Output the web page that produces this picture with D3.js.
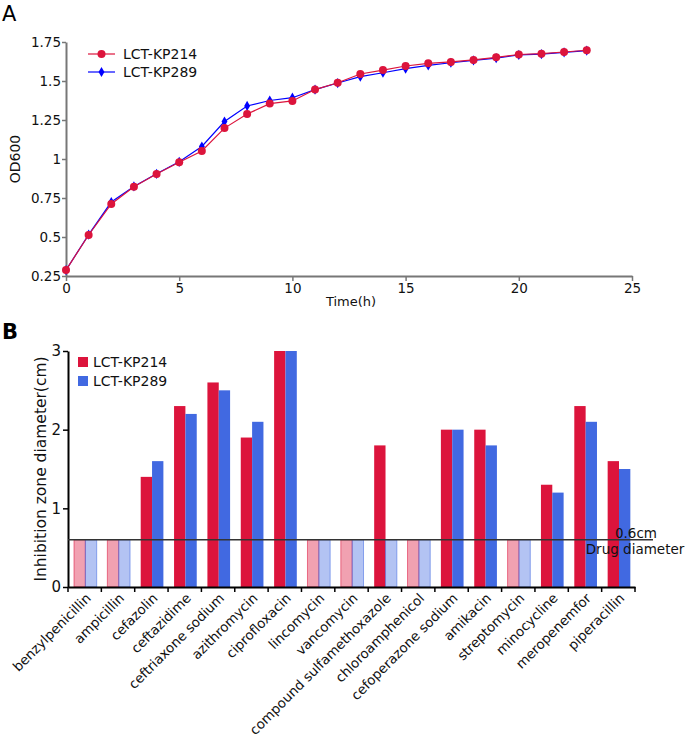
<!DOCTYPE html>
<html><head><meta charset="utf-8">
<script src="https://cdn.jsdelivr.net/npm/d3@7"></script>
<style>
html,body{margin:0;padding:0;background:#fff;}
svg{display:block;font-family:"DejaVu Sans",sans-serif;}
</style></head>
<body>
<svg id="chart" width="685" height="739"></svg>
<script>
// ---------- Panel A data ----------
const hours = [0,1,2,3,4,5,6,7,8,9,10,11,12,13,14,15,16,17,18,19,20,21,22,23];
const odKP214 = [0.288,0.513,0.712,0.822,0.904,0.979,1.051,1.198,1.288,1.355,1.372,1.445,1.489,1.545,1.570,1.596,1.613,1.622,1.635,1.652,1.670,1.675,1.686,1.697];
const odKP289 = [0.288,0.515,0.724,0.824,0.905,0.982,1.080,1.240,1.340,1.375,1.393,1.445,1.487,1.528,1.553,1.579,1.600,1.617,1.632,1.647,1.667,1.672,1.684,1.695];
const odYTicks = [0.25,0.5,0.75,1,1.25,1.5,1.75];
const timeTicks = [0,5,10,15,20,25];
const seriesNames = ["LCT-KP214","LCT-KP289"];

// ---------- Panel B data ----------
const drugs = ["benzylpenicillin","ampicillin","cefazolin","ceftazidime","ceftriaxone sodium","azithromycin","ciprofloxacin","lincomycin","vancomycin","compound sulfamethoxazole","chloroamphenicol","cefoperazone sodium","amikacin","streptomycin","minocycline","meropenemfor","piperacillin"];
const zoneKP214 = [0.6,0.6,1.4,2.3,2.6,1.9,3.0,0.6,0.6,1.8,0.6,2.0,2.0,0.6,1.3,2.3,1.6];
const zoneKP289 = [0.6,0.6,1.6,2.2,2.5,2.1,3.0,0.6,0.6,0.6,0.6,2.0,1.8,0.6,1.2,2.1,1.5];
const zoneYTicks = [0,1,2,3];
const drugDiameter = 0.6;

const RED = "#dc143c", BLUE = "#4169e1", LBLUE = "#0000ff";
const svg = d3.select("#chart");

// ================= Panel A =================
const xA = d3.scaleLinear().domain([0,25]).range([66,632]);
const yA = d3.scaleLinear().domain([0.25,1.75]).range([276,42]);

svg.append("text").attr("x",2).attr("y",21).attr("font-size",21).text("A");

const axA_y = svg.append("g").attr("transform","translate(66,0)")
  .call(d3.axisLeft(yA).tickValues(odYTicks).tickFormat(d=>String(d)).tickSize(4).tickPadding(1).tickSizeOuter(0));
const axA_x = svg.append("g").attr("transform","translate(0,276)")
  .call(d3.axisBottom(xA).tickValues(timeTicks).tickSize(5).tickPadding(2).tickSizeOuter(0));
[axA_y,axA_x].forEach(g=>{
  g.select(".domain").attr("stroke","#777").attr("stroke-width",2);
  g.selectAll(".tick line").attr("stroke","#777").attr("stroke-width",1.5);
  g.selectAll(".tick text").attr("font-size",13.5).attr("fill","#111").attr("font-family","DejaVu Sans");
});

svg.append("text").attr("x",351).attr("y",306).attr("text-anchor","middle").attr("font-size",13).attr("fill","#111").text("Time(h)");
svg.append("text").attr("transform","translate(20,159) rotate(-90)").attr("text-anchor","middle").attr("font-size",14).attr("fill","#111").text("OD600");

const lineA = d3.line().x((d,i)=>xA(hours[i])).y(d=>yA(d));
const diamond = d3.symbol().type(d3.symbolDiamond).size(30);

// blue series first
svg.append("path").datum(odKP289).attr("d",lineA).attr("fill","none").attr("stroke",LBLUE).attr("stroke-width",1.2);
svg.append("g").selectAll("path").data(odKP289).join("path")
  .attr("d",diamond).attr("transform",(d,i)=>`translate(${xA(hours[i])},${yA(d)})`).attr("fill",LBLUE);
svg.append("path").datum(odKP214).attr("d",lineA).attr("fill","none").attr("stroke",RED).attr("stroke-width",1.2);
svg.append("g").selectAll("circle").data(odKP214).join("circle")
  .attr("cx",(d,i)=>xA(hours[i])).attr("cy",d=>yA(d)).attr("r",4).attr("fill",RED);

// legend A
const legA = svg.append("g");
[[RED,"circle"],[LBLUE,"diamond"]].forEach(([c,m],i)=>{
  const y = 54 + i*18;
  legA.append("line").attr("x1",88).attr("x2",115).attr("y1",y).attr("y2",y).attr("stroke",c).attr("stroke-width",1.2);
  if(m==="circle") legA.append("circle").attr("cx",101.5).attr("cy",y).attr("r",4).attr("fill",c);
  else legA.append("path").attr("d",diamond).attr("transform",`translate(101.5,${y})`).attr("fill",c);
  legA.append("text").attr("x",123).attr("y",y+5).attr("font-size",14).attr("fill","#111").text(seriesNames[i]);
});

// ================= Panel B =================
const xB = d3.scaleBand().domain(drugs).range([68,635]).paddingInner(0).paddingOuter(0);
const yB = d3.scaleLinear().domain([0,3]).range([587,351]);
const bw = xB.bandwidth();

svg.append("text").attr("x",2).attr("y",339).attr("font-size",21).attr("font-weight","bold").text("B");

const rows = drugs.map((d,i)=>({drug:d, v:[zoneKP214[i],zoneKP289[i]]}));
const colors = [RED,BLUE];
const gBars = svg.append("g");
rows.forEach(r=>{
  r.v.forEach((v,k)=>{
    const faded = v <= drugDiameter;
    gBars.append("rect")
      .attr("x", xB(r.drug) + bw*0.18 + k*bw*0.34)
      .attr("y", yB(v))
      .attr("width", bw*0.34)
      .attr("height", yB(0)-yB(v))
      .attr("fill", colors[k])
      .attr("fill-opacity", faded?0.4:1)
      .attr("stroke", faded?colors[k]:"none")
      .attr("stroke-opacity", 0.55)
      .attr("stroke-width", 1);
  });
});

const axB_y = svg.append("g").attr("transform","translate(68,0)")
  .call(d3.axisLeft(yB).tickValues(zoneYTicks).tickFormat(d=>String(d)).tickSize(5).tickPadding(2).tickSizeOuter(0));
const axB_x = svg.append("g").attr("transform","translate(0,587)")
  .call(d3.axisBottom(xB).tickSize(0).tickFormat(""));
axB_y.select(".domain").attr("stroke","#000").attr("stroke-width",2);
axB_y.selectAll(".tick line").attr("stroke","#000").attr("stroke-width",1.5);
axB_y.selectAll(".tick text").attr("font-size",15).attr("fill","#111").attr("font-family","DejaVu Sans");
axB_x.select(".domain").attr("stroke","#000").attr("stroke-width",2);
// tick marks at band boundaries
const bounds = drugs.map(d=>xB(d)).concat([xB(drugs[drugs.length-1])+bw]);
svg.append("g").selectAll("line").data(bounds).join("line")
  .attr("x1",d=>d).attr("x2",d=>d).attr("y1",587).attr("y2",592).attr("stroke","#000").attr("stroke-width",1.5);

// category labels
svg.append("g").selectAll("text").data(drugs).join("text")
  .attr("transform",d=>`translate(${xB(d)+bw/2+7},${599}) rotate(-45)`)
  .attr("text-anchor","end").attr("font-size",13.4).attr("fill","#111").text(d=>d);

svg.append("text").attr("transform","translate(46,469) rotate(-90)").attr("text-anchor","middle").attr("font-size",15.5).attr("fill","#111").text("Inhibition zone diameter(cm)");

// drug diameter line
svg.append("line").attr("x1",68).attr("x2",653).attr("y1",yB(drugDiameter)).attr("y2",yB(drugDiameter)).attr("stroke","#333").attr("stroke-width",1.5);
svg.append("text").attr("x",636).attr("y",yB(drugDiameter)-2).attr("text-anchor","middle").attr("font-size",13.5).attr("fill","#111").text("0.6cm");
svg.append("text").attr("x",635).attr("y",yB(drugDiameter)+14).attr("text-anchor","middle").attr("font-size",13.5).attr("fill","#111").text("Drug diameter");

// legend B
seriesNames.forEach((n,i)=>{
  const y = 357 + i*19;
  svg.append("rect").attr("x",78).attr("y",y).attr("width",10).attr("height",10).attr("fill",colors[i]);
  svg.append("text").attr("x",93).attr("y",y+10).attr("font-size",14).attr("fill","#111").text(n);
});
</script>
</body></html>
